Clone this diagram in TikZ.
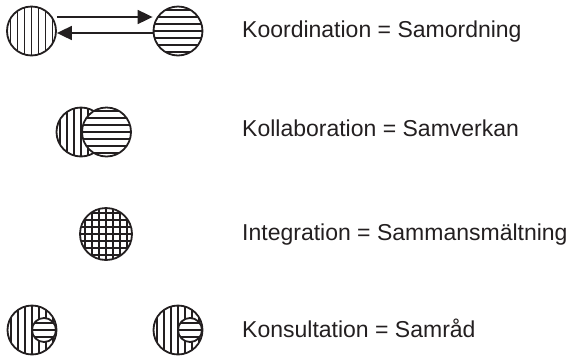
\documentclass[tikz,border=0pt]{standalone}
\usepackage{fontspec}
\setmainfont{Liberation Sans}
\usetikzlibrary{arrows.meta}
\definecolor{ink}{RGB}{35,31,32}
\tikzset{
  disc/.style={circle,draw=ink,line width=1.8pt,fill=white,inner sep=0pt,minimum size=49pt},
  small disc/.style={disc,minimum size=24pt},
  hatch/.style={ink,line width=1.6pt},
  vlines/.style={path picture={\foreach \i in {-4,...,4}
    \draw[hatch] ([xshift=\i*7pt]path picture bounding box.north) -- ([xshift=\i*7pt]path picture bounding box.south);}},
  hlines/.style={path picture={\foreach \i in {-4,...,4}
    \draw[hatch] ([yshift=\i*7pt]path picture bounding box.west) -- ([yshift=\i*7pt]path picture bounding box.east);}},
  grid lines/.style={path picture={\foreach \i in {-4,...,4}{
    \draw[hatch] ([xshift=\i*7pt]path picture bounding box.north) -- ([xshift=\i*7pt]path picture bounding box.south);
    \draw[hatch] ([yshift=\i*7pt]path picture bounding box.west) -- ([yshift=\i*7pt]path picture bounding box.east);}}},
  link/.style={->,ink,line width=1.8pt},
  caption/.style={anchor=base west,inner sep=0pt,text=ink,font=\fontsize{23}{27}\selectfont}
}
\begin{document}
\begin{tikzpicture}[x=1pt,y=-1pt,>={Triangle[length=15pt,width=14pt]}]
  \useasboundingbox (0,0) rectangle (573,357);
  % coordination: two discs, arrows both ways
  \node[disc,vlines] (ko1) at (31.5,31) {};
  \node[disc,hlines] (ko2) at (178,31) {};
  \draw[link] ([yshift=14pt]ko1.east) -- ([yshift=14pt]ko2.west);
  \draw[link] ([yshift=-2pt]ko2.west) -- ([yshift=-2pt]ko1.east);
  \node[caption] (t1) at (242,37) {Koordination = Samordning};
  % collaboration: overlapping discs
  \node[disc,vlines] (kl1) at (81,132) {};
  \node[disc,hlines] (kl2) at (106.5,132) {};
  \node[caption] (t2) at (242,136) {Kollaboration = Samverkan};
  % integration: one crossed disc
  \node[disc,grid lines,minimum size=52pt] (in) at (106,234) {};
  \node[caption] (t3) at (242,240) {Integration = Sammansmältning};
  % consultation: small disc inside a big one
  \foreach \x/\n in {32/a,178/b}{
    \node[disc,vlines] (ks\n) at (\x,330) {};
    \node[small disc,hlines] (kk\n) at ([xshift=12pt]ks\n.center) {};}
  \node[caption] (t4) at (242,337) {Konsultation = Samråd};
\end{tikzpicture}
\end{document}
